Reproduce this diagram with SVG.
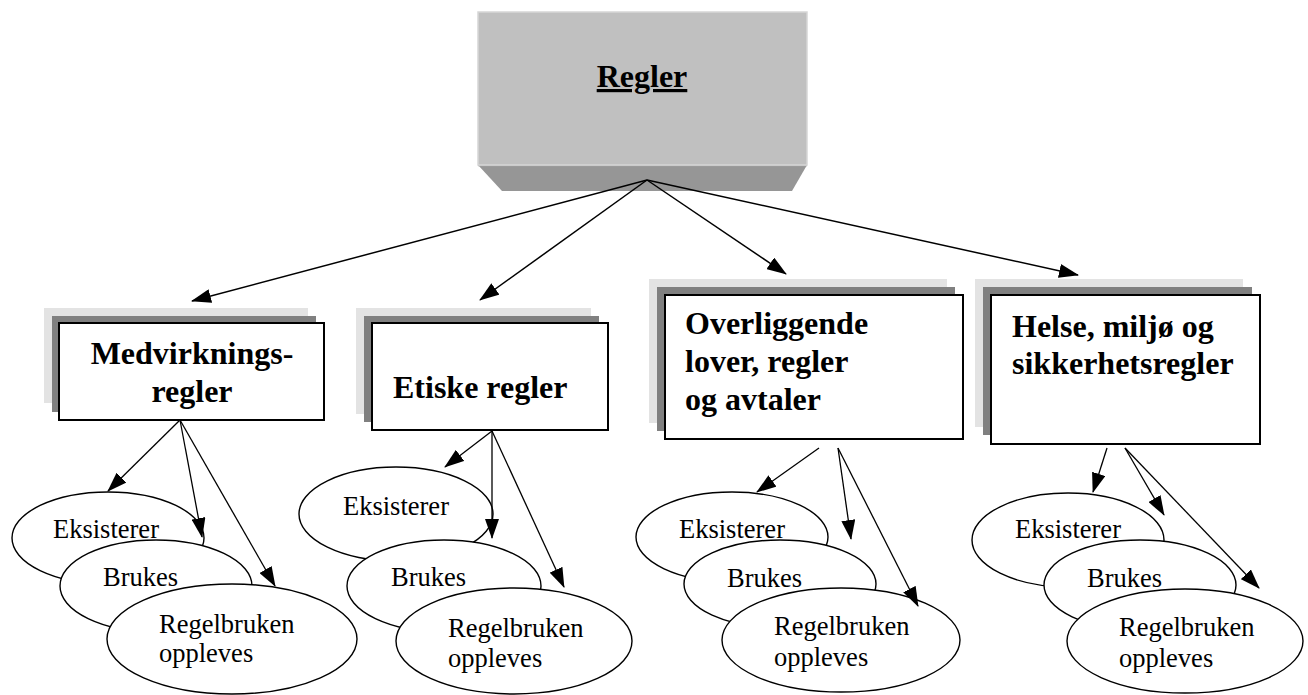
<svg xmlns="http://www.w3.org/2000/svg" width="1308" height="695" viewBox="0 0 1308 695">
<defs>
<style>
.b{font-family:"Liberation Serif","Times New Roman",serif;font-weight:bold;font-size:32px;fill:#000}
.r{font-family:"Liberation Serif","Times New Roman",serif;font-size:26.5px;fill:#000}
.s1{fill:#e3e3e3}
.s2{fill:#808080}
.wb{fill:#fff;stroke:#000;stroke-width:2}
.el{fill:#fff;stroke:#000;stroke-width:1.4}
.c{stroke:#000;stroke-width:1.5;fill:none;marker-end:url(#ah)}
.c2{stroke:#000;stroke-width:1.3;fill:none;marker-end:url(#ah)}
</style>
<marker id="ah" markerWidth="20" markerHeight="14" refX="19" refY="7" orient="auto" markerUnits="userSpaceOnUse"><path d="M0,0 L20,7 L0,14 z" fill="#000"/></marker>
</defs>
<rect width="1308" height="695" fill="#fff"/>
<g id="regler">
<polygon points="478,165 807,165 792,191 502,191" fill="#969696"/>
<line x1="478" y1="165.5" x2="807" y2="165.5" stroke="#a8a8a8" stroke-width="1.5"/>
<rect x="478" y="12" width="329" height="153" fill="#c0c0c0" stroke="#d6d6d6" stroke-width="1.5"/>
<text x="642" y="87" class="b" text-anchor="middle" text-decoration="underline" font-size="31">Regler</text>
</g>
<g id="medvirkning">
<rect x="44" y="308" width="264" height="95" class="s1"/>
<rect x="52" y="316" width="264" height="96" class="s2"/>
<rect x="59" y="323" width="265" height="97" class="wb"/>
<text x="192" y="364" class="b" text-anchor="middle">Medvirknings-</text>
<text x="192" y="402" class="b" text-anchor="middle">regler</text>
</g>
<g id="etiske">
<rect x="356" y="308" width="235" height="106" class="s1"/>
<rect x="364" y="316" width="235" height="106" class="s2"/>
<rect x="372" y="323" width="236" height="107" class="wb"/>
<text x="393" y="398" class="b">Etiske regler</text>
</g>
<g id="overliggende">
<rect x="649" y="279" width="298" height="144" class="s1"/>
<rect x="657" y="287" width="298" height="144" class="s2"/>
<rect x="665" y="295" width="298" height="144" class="wb"/>
<text x="685" y="334" class="b">Overliggende</text>
<text x="685" y="372" class="b">lover, regler</text>
<text x="685" y="410" class="b">og avtaler</text>
</g>
<g id="helse">
<rect x="975" y="279" width="268" height="148" class="s1"/>
<rect x="983" y="287" width="269" height="148" class="s2"/>
<rect x="991" y="295" width="269" height="149" class="wb"/>
<text x="1012" y="337" class="b">Helse, miljø og</text>
<text x="1012" y="374" class="b">sikkerhetsregler</text>
</g>
<g id="g1-nodes">
<g id="g1-eksisterer"><ellipse cx="108" cy="538" rx="96" ry="46" class="el"/><text x="53" y="538" class="r">Eksisterer</text></g>
<g id="g1-brukes"><ellipse cx="156" cy="586" rx="96" ry="46" class="el"/><text x="103" y="586" class="r">Brukes</text></g>
<g id="g1-regelbruken"><ellipse cx="232" cy="639" rx="125" ry="55" class="el"/><text x="159" y="633" class="r">Regelbruken</text><text x="159" y="662" class="r">oppleves</text></g>
</g>
<g id="g2-nodes">
<g id="g2-eksisterer"><ellipse cx="396" cy="514" rx="97" ry="47" class="el"/><text x="343" y="515" class="r">Eksisterer</text></g>
<g id="g2-brukes"><ellipse cx="444" cy="586" rx="97" ry="46" class="el"/><text x="391" y="586" class="r">Brukes</text></g>
<g id="g2-regelbruken"><ellipse cx="514" cy="641" rx="118" ry="53" class="el"/><text x="448" y="637" class="r">Regelbruken</text><text x="448" y="667" class="r">oppleves</text></g>
</g>
<g id="g3-nodes">
<g id="g3-eksisterer"><ellipse cx="732" cy="537" rx="96" ry="45" class="el"/><text x="679" y="538" class="r">Eksisterer</text></g>
<g id="g3-brukes"><ellipse cx="780" cy="584" rx="96" ry="44" class="el"/><text x="727" y="587" class="r">Brukes</text></g>
<g id="g3-regelbruken"><ellipse cx="841" cy="640" rx="119" ry="52" class="el"/><text x="774" y="635" class="r">Regelbruken</text><text x="774" y="666" class="r">oppleves</text></g>
</g>
<g id="g4-nodes">
<g id="g4-eksisterer"><ellipse cx="1068" cy="540" rx="96" ry="47" class="el"/><text x="1015" y="538" class="r">Eksisterer</text></g>
<g id="g4-brukes"><ellipse cx="1140" cy="585" rx="96" ry="45" class="el"/><text x="1087" y="587" class="r">Brukes</text></g>
<g id="g4-regelbruken"><ellipse cx="1185" cy="641" rx="118" ry="52" class="el"/><text x="1119" y="636" class="r">Regelbruken</text><text x="1119" y="667" class="r">oppleves</text></g>
</g>
<g id="connectors">
<line x1="647" y1="180" x2="192" y2="301" class="c"/>
<line x1="647" y1="180" x2="480" y2="300" class="c"/>
<line x1="647" y1="180" x2="786" y2="274" class="c"/>
<line x1="647" y1="180" x2="1078" y2="275" class="c"/>
<line x1="180" y1="420" x2="108" y2="491" class="c2"/>
<line x1="180" y1="420" x2="202" y2="537" class="c2"/>
<line x1="180" y1="420" x2="275" y2="586" class="c2"/>
<line x1="492" y1="431" x2="445" y2="467" class="c2"/>
<line x1="492" y1="431" x2="492" y2="538" class="c2"/>
<line x1="492" y1="431" x2="564" y2="587" class="c2"/>
<line x1="819" y1="448" x2="757" y2="492" class="c2"/>
<line x1="838" y1="448" x2="851" y2="539" class="c2"/>
<line x1="838" y1="448" x2="918" y2="606" class="c2"/>
<line x1="1107" y1="448" x2="1093" y2="492" class="c2"/>
<line x1="1125" y1="448" x2="1164" y2="515" class="c2"/>
<line x1="1125" y1="448" x2="1259" y2="588" class="c2"/>
</g>
</svg>
